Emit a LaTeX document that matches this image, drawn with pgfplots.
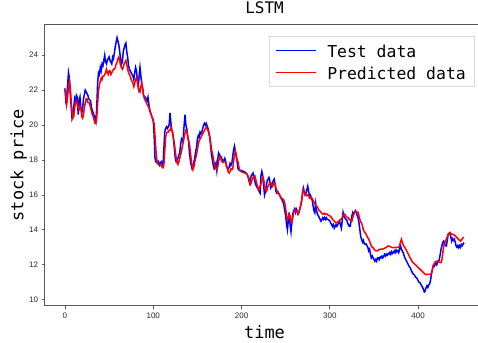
\documentclass[border=0pt]{standalone}
\usepackage{fontspec}
\setmainfont{Liberation Sans}
\newfontfamily\monofont{DejaVu Sans Mono}
\usepackage{pgfplots}
\pgfplotsset{compat=1.18}
\begin{document}
\begin{tikzpicture}
\begin{axis}[
 at={(45bp,37.5bp)}, anchor=south west,
 scale only axis, width=439bp, height=280.5bp,
 xmin=-22.6, xmax=474.6, ymin=9.67, ymax=25.73,
 xtick={0,100,200,300,400}, ytick={10,12,14,16,18,20,22,24},
 tick align=outside, xtick pos=bottom, ytick pos=left,
 major tick length=3.5bp,
 axis line style={black!65, line width=1bp},
 tick style={black!65, line width=0.8bp},
 /pgf/number format/assume math mode=true,
 tick label style={font=\fontsize{8}{9}\selectfont, text=black!85},
 title={LSTM},
 title style={font=\monofont\fontsize{16}{19}\selectfont, at={(rel axis cs:0.5,1.0214)}, anchor=base},
 xlabel={time},
 xlabel style={font=\monofont\fontsize{17}{20}\selectfont, at={(rel axis cs:0.5,-0.1159)}, anchor=base},
 ylabel={stock price},
 ylabel style={font=\monofont\fontsize{17}{20}\selectfont, at={(rel axis cs:-0.049,0.5)}, anchor=base, rotate=0},
 legend style={at={(rel axis cs:0.9772,0.9594)}, anchor=north east, draw=black!15,
   font=\monofont\fontsize{16.5}{19.5}\selectfont, inner xsep=6bp, inner ysep=3.7bp, row sep=1.5bp,
   /tikz/every odd column/.append style={column sep=9bp}},
 legend image code/.code={\draw[#1] (0bp,0bp) -- (40bp,0bp);},
 legend cell align=left,
]
\addplot[color=blue, line width=1.5bp] coordinates {
(0,22.1) (1,21.4) (2,21.6) (4,23.0) (5,22.7) (6,21.8) (8,20.4) (9,20.6) (11,21.5) (12,21.3) (13,21.7) (14,21.6) (15,20.6) (16,21.4) (17,21.6) (18,21.0) (19,20.7) (20,20.9) (21,21.5) (23,22.0) (24,21.9) (26,21.7) (27,21.5) (29,21.4) (30,21.0) (32,20.7) (34,20.4) (35,20.2) (36,21.0) (37,22.4) (38,23.0) (39,22.9) (40,23.3) (41,23.1) (42,23.5) (43,23.4) (45,24.0) (46,23.6) (47,23.5) (48,23.7) (50,23.9) (51,23.7) (53,23.5) (54,23.9) (55,23.8) (57,24.5) (59,25.0) (60,24.8) (61,24.6) (62,24.2) (63,23.8) (64,23.5) (65,23.6) (66,24.2) (67,24.4) (68,24.6) (69,24.7) (70,24.2) (71,23.9) (72,23.4) (73,23.2) (75,23.0) (77,22.8) (78,22.6) (79,23.0) (80,23.3) (81,23.1) (82,22.6) (83,22.2) (84,22.8) (85,23.3) (86,22.8) (87,22.3) (88,22.1) (89,21.7) (91,21.6) (93,21.4) (94,21.6) (95,21.2) (96,20.9) (97,20.7) (99,20.4)
(100,20.3) (101,19.4) (102,18.1) (103,17.9) (105,17.8) (106,17.9) (107,17.7) (109,17.9) (110,17.8) (111,17.7) (112,18.6) (113,19.6) (114,19.8) (115,19.9) (116,19.8) (117,19.9) (118,20.0) (119,20.7) (120,20.1) (121,19.7) (122,19.6) (123,19.2) (124,18.6) (125,18.1) (126,17.9) (127,18.0) (128,18.1) (129,18.3) (130,18.4) (131,18.9) (132,19.2) (133,19.1) (134,19.3) (135,20.0) (136,20.6) (137,20.0) (138,19.8) (139,19.3) (140,19.1) (141,18.4) (142,18.0) (143,17.7) (144,17.5) (145,17.6) (146,17.9) (147,18.1) (148,18.5) (149,18.7) (150,19.2) (151,19.4) (152,19.3) (153,19.6) (154,19.5) (155,19.6) (156,19.8) (157,20.0) (158,20.1) (159,20.0) (160,20.1) (162,19.8) (163,19.6) (164,19.3) (165,18.8) (166,18.3) (167,18.0) (168,17.7) (169,17.5) (170,17.6) (171,17.8) (172,17.4) (173,18.0) (174,18.4) (175,18.3) (176,18.2) (177,18.2) (178,18.0) (179,17.9) (180,18.0) (181,18.1) (182,17.9) (183,17.6) (185,17.5) (186,17.6) (187,17.8) (188,17.7) (189,17.8) (190,18.2) (191,18.6) (192,18.8) (193,18.5) (194,18.2) (195,17.9) (196,17.5) (198,17.4)
(200,17.4) (202,17.35) (204,17.3) (206,17.2) (207,17.1) (208,16.9) (209,16.7) (210,16.9) (211,17.1) (213,17.25) (214,17.0) (215,16.8) (216,16.6) (217,16.5) (218,16.4) (219,16.3) (220,16.2) (221,16.1) (222,17.1) (223,17.35) (224,17.1) (225,16.6) (226,16.0) (227,16.2) (228,16.5) (229,16.8) (230,16.9) (231,17.0) (232,16.8) (233,16.4) (234,16.5) (235,16.7) (236,16.8) (237,16.9) (238,16.6) (239,16.2) (240,16.1) (241,16.2) (243,16.0) (244,15.9) (245,15.8) (246,15.7) (247,15.6) (248,15.4) (249,15.1) (250,14.8) (251,14.3) (252,14.0) (253,14.6) (254,15.0) (255,14.3) (256,13.9) (257,14.5) (258,14.9) (259,15.1) (260,15.2) (261,15.0) (262,15.2) (263,15.1) (264,14.9) (265,15.0) (266,15.2) (267,15.4) (268,15.6) (269,16.1) (270,16.4) (271,16.2) (272,16.0) (273,16.1) (274,16.3) (275,16.5) (276,16.2) (277,15.95) (278,16.0) (279,15.8) (280,15.7) (281,15.4) (282,15.1) (283,14.98) (284,15.5) (285,15.1) (286,14.9) (287,14.8) (288,14.7) (289,14.6) (290,14.5) (291,14.6) (292,14.7) (293,14.6) (294,14.7) (295,14.6) (296,14.7) (297,14.6) (298,14.6)
(300,14.5) (301,14.4) (302,14.3) (303,14.2) (304,14.3) (305,14.1) (306,14.2) (307,14.3) (308,14.2) (309,14.3) (310,14.4) (311,14.5) (312,14.3) (313,14.1) (314,14.5) (315,15.0) (316,14.8) (317,14.7) (318,14.6) (319,14.6) (320,14.4) (321,14.3) (322,14.2) (323,14.2) (324,14.5) (325,14.8) (326,15.0) (327,14.9) (328,15.0) (329,15.1) (330,15.0) (331,14.8) (332,14.7) (333,14.4) (334,14.0) (335,13.6) (336,13.46) (337,13.3) (338,13.4) (339,13.2) (340,13.17) (341,13.2) (342,13.1) (343,13.0) (344,12.8) (345,12.9) (346,12.6) (347,12.4) (348,12.5) (349,12.4) (350,12.3) (351,12.2) (352,12.3) (353,12.2) (354,12.4) (355,12.4) (356,12.3) (357,12.45) (358,12.4) (359,12.5) (360,12.4) (361,12.5) (362,12.6) (363,12.5) (364,12.6) (365,12.55) (366,12.65) (367,12.6) (368,12.7) (369,12.6) (370,12.75) (371,12.65) (372,12.7) (373,12.8) (374,12.7) (375,12.85) (376,12.75) (377,12.8) (378,12.7) (379,12.9) (380,13.1) (381,12.9) (382,12.8) (383,12.7) (384,12.55) (385,12.4) (386,12.3) (387,12.2) (388,12.1) (389,12.0) (390,11.9) (391,11.84) (392,11.7) (393,11.6) (394,11.5) (395,11.45) (396,11.4) (397,11.3) (398,11.27) (399,11.2)
(400,11.1) (401,11.0) (402,10.98) (403,10.9) (404,10.8) (405,10.7) (406,10.6) (407,10.45) (408,10.5) (409,10.7) (410,10.8) (411,10.7) (412,10.85) (413,10.9) (414,11.1) (415,11.46) (416,11.7) (417,11.94) (418,11.9) (419,12.0) (420,12.1) (421,12.0) (422,12.13) (423,12.2) (424,12.3) (425,12.6) (426,12.9) (427,13.1) (428,13.3) (429,13.36) (430,13.2) (431,13.1) (432,13.08) (433,13.4) (434,13.74) (435,13.8) (436,13.84) (437,13.6) (438,13.36) (439,13.5) (440,13.4) (441,13.46) (442,13.3) (443,13.08) (444,13.0) (445,13.1) (446,12.98) (447,13.1) (448,13.0) (449,13.17) (450,13.1) (451,13.2) (452,13.27)
};
\addlegendentry{\rule[-3bp]{0pt}{18bp}Test data}
\addplot[color=red, line width=1.5bp] coordinates {
(0,22.0) (1,21.8) (2,21.2) (3,21.6) (4,22.2) (5,22.5) (6,22.2) (7,21.4) (8,20.8) (9,20.4) (10,20.5) (11,21.0) (12,21.3) (13,21.4) (14,21.2) (15,21.0) (16,20.9) (17,21.1) (18,21.0) (19,20.5) (20,20.4) (21,20.6) (22,21.0) (24,21.5) (25,21.5) (26,21.3) (27,21.3) (28,21.2) (29,21.0) (30,20.8) (31,20.6) (32,20.5) (33,20.3) (34,20.1) (35,20.1) (36,20.4) (37,21.2) (38,22.0) (39,22.3) (40,22.5) (41,22.7) (42,22.6) (43,22.8) (44,22.8) (45,22.9) (46,23.0) (47,23.2) (48,23.0) (49,22.9) (50,23.1) (51,23.1) (52,22.9) (53,23.0) (54,23.1) (55,23.2) (56,23.2) (57,23.3) (58,23.5) (59,23.6) (60,23.8) (61,23.9) (62,23.7) (63,23.4) (64,23.3) (65,23.2) (66,23.3) (67,23.5) (68,23.6) (69,23.7) (70,23.5) (71,23.2) (72,23.0) (73,22.9) (74,22.8) (75,22.6) (77,22.4) (78,22.2) (79,22.4) (80,22.6) (81,22.7) (82,22.5) (83,22.2) (84,22.0) (85,21.9) (86,22.2) (87,22.4) (88,22.1) (89,21.7) (90,21.5) (92,21.3) (94,21.1) (95,21.0) (96,20.8) (97,20.7) (99,20.4)
(100,20.2) (101,20.1) (102,19.4) (103,18.6) (104,18.0) (105,17.8) (107,17.7) (109,17.7) (110,17.6) (111,17.55) (112,17.7) (113,18.5) (114,19.3) (115,19.55) (116,19.6) (117,19.6) (118,19.7) (119,19.7) (120,19.9) (121,19.7) (122,19.5) (123,19.2) (124,18.9) (125,18.5) (126,18.1) (127,17.9) (128,17.75) (129,17.9) (130,18.1) (131,18.3) (132,18.5) (133,18.8) (134,19.0) (135,19.3) (136,19.55) (137,19.7) (138,19.65) (139,19.4) (140,19.1) (141,18.9) (142,18.5) (143,18.0) (144,17.7) (145,17.45) (146,17.6) (147,17.9) (148,18.1) (149,18.3) (150,18.6) (151,18.9) (152,19.1) (153,19.2) (154,19.3) (155,19.4) (156,19.5) (157,19.6) (158,19.7) (159,19.8) (160,19.9) (161,19.8) (162,19.7) (163,19.5) (164,19.35) (165,19.0) (166,18.6) (167,18.4) (168,18.1) (169,17.8) (170,17.6) (171,17.5) (172,17.45) (173,17.6) (174,17.9) (175,18.1) (176,18.2) (177,18.0) (178,17.9) (179,17.85) (180,17.9) (181,17.9) (182,17.9) (183,17.7) (184,17.5) (185,17.3) (186,17.25) (187,17.35) (188,17.5) (189,17.45) (190,17.5) (191,17.9) (192,18.3) (193,18.5) (194,18.3) (195,18.0) (196,17.9) (197,17.6) (198,17.4) (199,17.35)
(201,17.3) (204,17.25) (206,17.2) (207,17.1) (208,17.0) (209,16.8) (210,16.6) (211,16.7) (212,16.9) (213,17.0) (215,17.1) (216,16.9) (217,16.7) (218,16.5) (219,16.3) (220,16.4) (221,16.5) (222,16.6) (223,16.8) (224,17.0) (225,16.9) (226,16.6) (227,16.3) (228,16.2) (229,16.3) (230,16.5) (231,16.6) (232,16.7) (233,16.7) (234,16.6) (235,16.5) (236,16.6) (237,16.7) (238,16.6) (239,16.4) (240,16.2) (241,16.1) (242,16.1) (243,16.0) (244,15.9) (245,15.8) (246,15.8) (247,15.75) (248,15.7) (249,15.5) (250,15.2) (251,14.8) (252,14.6) (253,14.7) (254,14.9) (255,14.8) (256,14.5) (257,14.4) (258,14.7) (259,15.0) (260,15.15) (261,15.1) (262,15.1) (263,15.0) (264,14.9) (265,15.0) (266,15.2) (267,15.4) (268,15.7) (269,16.0) (270,16.3) (271,16.2) (272,16.1) (273,16.0) (274,15.95) (275,16.0) (276,16.0) (277,15.8) (278,15.8) (279,15.85) (280,15.8) (281,15.7) (282,15.6) (283,15.5) (284,15.4) (285,15.36) (286,15.3) (287,15.2) (288,15.1) (289,15.07) (290,15.0) (291,14.95) (292,14.9) (293,14.9) (294,14.95) (295,14.9) (296,14.9) (297,14.9) (298,14.85)
(300,14.8) (301,14.75) (302,14.7) (303,14.6) (304,14.55) (305,14.5) (306,14.45) (307,14.4) (308,14.4) (309,14.45) (310,14.5) (311,14.55) (312,14.6) (313,14.6) (314,14.7) (315,14.85) (316,14.9) (317,14.9) (318,14.8) (319,14.75) (320,14.7) (321,14.7) (322,14.6) (323,14.55) (324,14.5) (325,14.5) (326,14.7) (327,14.9) (328,15.0) (329,15.07) (330,15.05) (331,15.0) (332,15.0) (333,14.8) (334,14.6) (335,14.45) (336,14.4) (337,14.2) (338,14.0) (339,13.9) (340,13.84) (341,13.75) (342,13.65) (343,13.55) (344,13.46) (345,13.36) (346,13.2) (347,13.1) (348,13.0) (349,12.98) (350,12.9) (351,12.85) (352,12.8) (353,12.8) (354,12.8) (355,12.85) (356,12.85) (357,12.9) (358,12.9) (359,12.9) (360,12.9) (362,12.95) (364,13.0) (366,13.08) (368,13.05) (370,13.0) (372,12.98) (374,13.0) (376,13.0) (378,13.0) (379,13.1) (380,13.3) (381,13.46) (382,13.3) (383,13.15) (384,13.05) (385,12.98) (386,12.9) (387,12.8) (388,12.7) (389,12.6) (390,12.5) (391,12.4) (392,12.3) (393,12.2) (394,12.13) (395,12.1) (396,12.05) (397,12.0) (398,11.95) (399,11.9)
(400,11.84) (401,11.8) (402,11.75) (403,11.7) (404,11.65) (405,11.6) (406,11.56) (407,11.5) (408,11.46) (409,11.44) (410,11.46) (412,11.45) (414,11.46) (415,11.5) (416,11.7) (417,11.9) (418,12.05) (419,12.13) (420,12.2) (421,12.2) (422,12.22) (423,12.2) (424,12.15) (425,12.13) (426,12.13) (427,12.3) (428,12.7) (429,13.08) (430,13.25) (431,13.35) (432,13.46) (433,13.6) (434,13.75) (435,13.8) (436,13.84) (437,13.8) (438,13.75) (439,13.74) (440,13.74) (441,13.7) (442,13.65) (443,13.6) (444,13.55) (445,13.5) (446,13.45) (447,13.4) (448,13.36) (449,13.4) (450,13.5) (451,13.55) (452,13.55)
};
\addlegendentry{\rule[-3bp]{0pt}{18bp}Predicted data}
\end{axis}
\pgfresetboundingbox
\path[use as bounding box] (0bp,0bp) rectangle (478bp,343bp);
\end{tikzpicture}
\end{document}
